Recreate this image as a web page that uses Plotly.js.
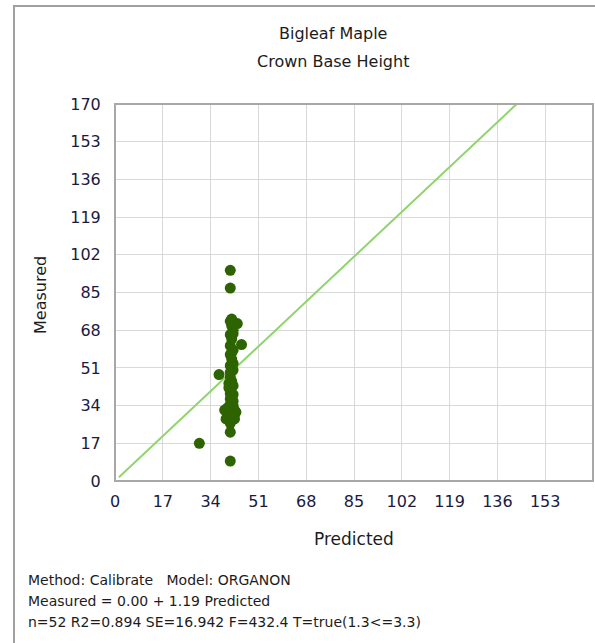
<!DOCTYPE html>
<html>
<head>
<meta charset="utf-8">
<script src="https://cdn.plot.ly/plotly-3.0.1.min.js"></script>
<style>
  html, body { margin: 0; padding: 0; background: #ffffff; }
  #chart { width: 595px; height: 643px; }
</style>
</head>
<body>
<div id="chart"></div>
<script>
// ---- data ----
const chartTitle = ["Bigleaf Maple", "Crown Base Height"];
const xAxisTitle = "Predicted";
const yAxisTitle = "Measured";
const tickValues = [0, 17, 34, 51, 68, 85, 102, 119, 136, 153, 170];
const xTickLabels = ["0", "17", "34", "51", "68", "85", "102", "119", "136", "153"];
const yTickLabels = ["0", "17", "34", "51", "68", "85", "102", "119", "136", "153", "170"];
const axisMax = 170;

const predicted = [41, 41, 41, 43.5, 41.5, 42, 41, 41.5, 45, 42, 41, 41.5, 37, 41, 42, 41, 41.5, 42, 41, 42,
                   41, 41.5, 40, 42, 39, 41, 43, 40, 42, 41, 39.5, 42.5, 41, 41, 41, 30, 41,
                   41, 42, 40.5, 41, 42, 41, 41.5, 42, 40, 41, 42.5, 41, 40.5, 41.5, 42];
const measured  = [95, 87, 72, 71, 70, 68, 66, 64, 61.5, 59, 57, 55, 48, 52, 50, 47, 45, 43, 41, 39,
                   37, 35, 33, 34, 32, 31, 31, 30, 29.5, 28.5, 28, 28, 27, 26, 22, 17, 9,
                   33, 36, 44, 49, 53, 61, 73, 30, 29, 34.5, 32, 39.5, 42, 58, 66.5];

const fitIntercept = 0.00;
const fitSlope = 1.19;
const fitStartX = 1.4;

const statLines = [
  "Method: Calibrate &nbsp; Model: ORGANON",
  "Measured = 0.00 + 1.19 Predicted",
  "n=52 R2=0.894 SE=16.942 F=432.4 T=true(1.3&lt;=3.3)"
];

// ---- build ----
const W = 595, H = 643;
const M = { l: 115, r: 2, t: 104, b: 162 };
const pw = W - M.l - M.r, ph = H - M.t - M.b;
const px = x => (x - M.l) / pw;          // pixel -> paper
const py = y => (H - M.b - y) / ph;

const fitEndX = (axisMax - fitIntercept) / fitSlope;
const fitX = [fitStartX, fitEndX];
const fitY = fitX.map(x => fitIntercept + fitSlope * x);

const txtColor = "#1c1c1c";
const tickColor = "#1a1a40";
const font = "Tahoma, 'DejaVu Sans', sans-serif";

const traces = [
  {
    x: fitX, y: fitY, type: "scatter", mode: "lines",
    line: { color: "#8fd46e", width: 2 }, hoverinfo: "skip", showlegend: false
  },
  {
    x: predicted, y: measured, type: "scatter", mode: "markers",
    marker: { color: "#2e6400", size: 11, line: { width: 0 } }, showlegend: false
  }
];

const annotations = [
  { text: chartTitle[0], x: px(333), y: py(33) },
  { text: chartTitle[1], x: px(333), y: py(62) },
  { text: xAxisTitle, x: px(354), y: py(539), size: 17 },
  { text: yAxisTitle, x: px(40), y: py(295), size: 16, angle: -90 }
].map(a => ({
  text: a.text, x: a.x, y: a.y, xref: "paper", yref: "paper",
  xanchor: "center", yanchor: "middle", showarrow: false, textangle: a.angle || 0,
  font: { family: font, size: a.size || 16, color: txtColor }
}));

statLines.forEach((t, i) => {
  annotations.push({
    text: t, x: px(26), y: py(580 + i * 21), xref: "paper", yref: "paper",
    xanchor: "left", yanchor: "middle", showarrow: false,
    font: { family: font, size: 14, color: txtColor }
  });
});

const axisCommon = {
  range: [0, axisMax], tickvals: tickValues, showgrid: true, gridcolor: "#d9d9d9", gridwidth: 1,
  zeroline: false, showline: false, ticks: "outside", tickcolor: "rgba(0,0,0,0)",
  tickfont: { family: font, size: 16, color: tickColor }, fixedrange: true
};

const layout = {
  width: W, height: H, margin: M,
  paper_bgcolor: "#ffffff", plot_bgcolor: "#ffffff",
  showlegend: false,
  xaxis: Object.assign({}, axisCommon, { ticktext: xTickLabels.concat([""]), ticklen: 6 }),
  yaxis: Object.assign({}, axisCommon, { ticktext: yTickLabels, ticklen: 10 }),
  annotations: annotations,
  shapes: [
    { type: "rect", xref: "paper", yref: "paper", x0: 0, x1: 1, y0: 0, y1: 1,
      line: { color: "#a8a8a8", width: 2 }, layer: "above" },
    { type: "rect", xref: "paper", yref: "paper", x0: px(14), x1: px(700), y0: py(700), y1: py(6),
      line: { color: "#a0a0a0", width: 2 }, layer: "below" }
  ]
};

Plotly.newPlot("chart", traces, layout, { staticPlot: true, displayModeBar: false });
</script>
</body>
</html>
